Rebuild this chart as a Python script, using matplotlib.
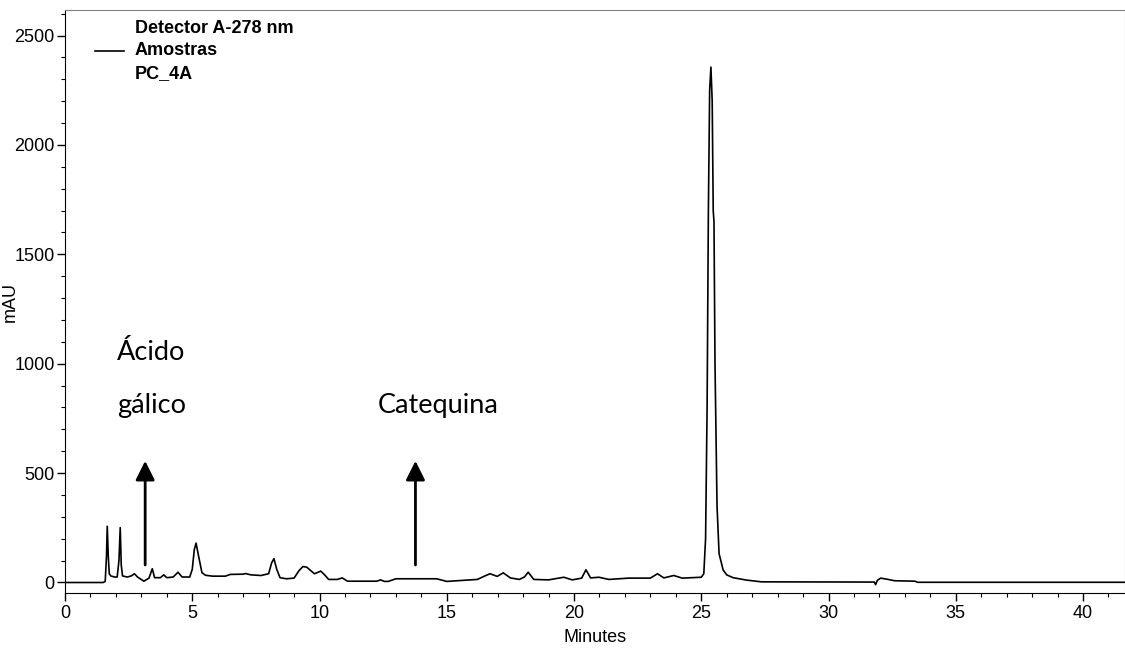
import matplotlib
matplotlib.use("Agg")
import matplotlib.pyplot as plt
from matplotlib.ticker import MultipleLocator

# Chromatogram points (minutes, mAU)
time_min = [0.00, 1.50, 1.58, 1.63, 1.66, 1.70, 1.74, 1.80, 1.95, 2.05, 2.12, 2.17, 2.21, 2.26,
            2.45, 2.60, 2.73, 2.85, 3.10, 3.30, 3.43, 3.52, 3.75, 3.88, 4.00, 4.25, 4.44, 4.60,
            4.90, 5.00, 5.08, 5.15, 5.25, 5.38, 5.52, 5.80, 6.30, 6.50, 7.00, 7.09, 7.30, 7.70,
            8.00, 8.12, 8.21, 8.32, 8.45, 8.70, 9.00, 9.20, 9.35, 9.50, 9.60, 9.80, 10.05, 10.20,
            10.36, 10.70, 10.89, 11.10, 12.25, 12.40, 12.55, 12.70, 13.00, 13.70, 14.60, 15.00,
            16.20, 16.50, 16.70, 16.98, 17.22, 17.50, 17.85, 18.05, 18.20, 18.42, 19.00, 19.60,
            19.93, 20.30, 20.47, 20.65, 20.98, 21.37, 22.15, 23.00, 23.28, 23.53, 23.92, 24.25,
            25.00, 25.10, 25.17, 25.23, 25.28, 25.33, 25.38, 25.43, 25.47, 25.50, 25.54, 25.62,
            25.70, 25.86, 26.00, 26.25, 26.78, 27.37, 31.80, 31.85, 31.92, 32.05, 32.30, 32.60,
            33.40, 33.50, 41.70]
signal_mau = [0, 0, 5, 120, 257, 120, 40, 30, 25, 25, 100, 251, 80, 30,
              25, 30, 40, 25, 6, 20, 63, 22, 22, 35, 22, 25, 47, 25,
              25, 60, 150, 180, 120, 45, 33, 29, 29, 37, 38, 41, 35, 32,
              40, 90, 109, 60, 22, 17, 20, 55, 73, 70, 60, 40, 52, 35,
              14, 14, 21, 6, 6, 12, 5, 5, 17, 17, 17, 5,
              14, 30, 40, 28, 44, 21, 14, 25, 47, 14, 12, 24,
              12, 20, 58, 21, 24, 14, 20, 20, 40, 21, 32, 20,
              24, 40, 200, 800, 1700, 2250, 2356, 2200, 1700, 1650, 1000, 350,
              132, 57, 35, 22, 11, 3, 2, -10, 10, 20, 15, 8,
              6, 1, 1]

legend_label = "Detector A-278 nm\nAmostras\nPC_4A"
annot_labels = ["Ácido", "gálico", "Catequina"]
annot_x = [2.05, 2.05, 12.27]
annot_y = [1017, 775, 775]
arrow_x = [3.15, 13.77]
arrow_y0 = [80, 80]
arrow_y1 = [556, 556]

plt.rcParams['font.family'] = ['Liberation Sans', 'DejaVu Sans']

fig = plt.figure(figsize=(11.25, 6.48), dpi=100)
ax = fig.add_axes([65/1125, 1 - 593/648, 1 - 65/1125, (593 - 10)/648])

ax.plot(time_min, signal_mau, color='black', lw=1.2, label=legend_label)

ax.set_xlim(0, 41.65)
ax.set_ylim(-48, 2617)
ax.xaxis.set_major_locator(MultipleLocator(5))
ax.xaxis.set_minor_locator(MultipleLocator(1))
ax.yaxis.set_major_locator(MultipleLocator(500))
ax.yaxis.set_minor_locator(MultipleLocator(100))
ax.tick_params(axis='both', which='major', length=6, width=1, labelsize=13, direction='out')
ax.tick_params(axis='both', which='minor', length=3, width=0.8, direction='out')
ax.tick_params(axis='x', pad=2.5)
ax.tick_params(axis='y', pad=1.5)

ax.spines['top'].set_color('#808080')
ax.spines['right'].set_color('#808080')
ax.spines['left'].set_color('black')
ax.spines['bottom'].set_color('black')

ax.set_xlabel("Minutes", fontsize=13)
ax.set_ylabel("mAU", fontsize=13)
ax.xaxis.set_label_coords(0.5, -0.062)
ax.yaxis.set_label_coords(-0.044, 0.5)

leg = ax.legend(loc='upper left', bbox_to_anchor=(30/1060, 1 - 10/583), frameon=False,
                handlelength=1.6, handletextpad=0.6, borderpad=0, borderaxespad=0,
                prop={'size': 13, 'weight': 'bold'})
for t in leg.get_texts():
    t.set_linespacing(1.42)

for lab, x, y in zip(annot_labels, annot_x, annot_y):
    ax.text(x, y, lab, fontsize=19.5, family=['Lato', 'DejaVu Sans'], ha='left', va='baseline')

for x, y0, y1 in zip(arrow_x, arrow_y0, arrow_y1):
    ax.annotate('', xy=(x, y1), xytext=(x, y0),
                arrowprops=dict(arrowstyle='-|>,head_length=0.58,head_width=0.29',
                                mutation_scale=20, lw=2, color='black',
                                shrinkA=0, shrinkB=0))

fig.savefig("out.png", dpi=100)
